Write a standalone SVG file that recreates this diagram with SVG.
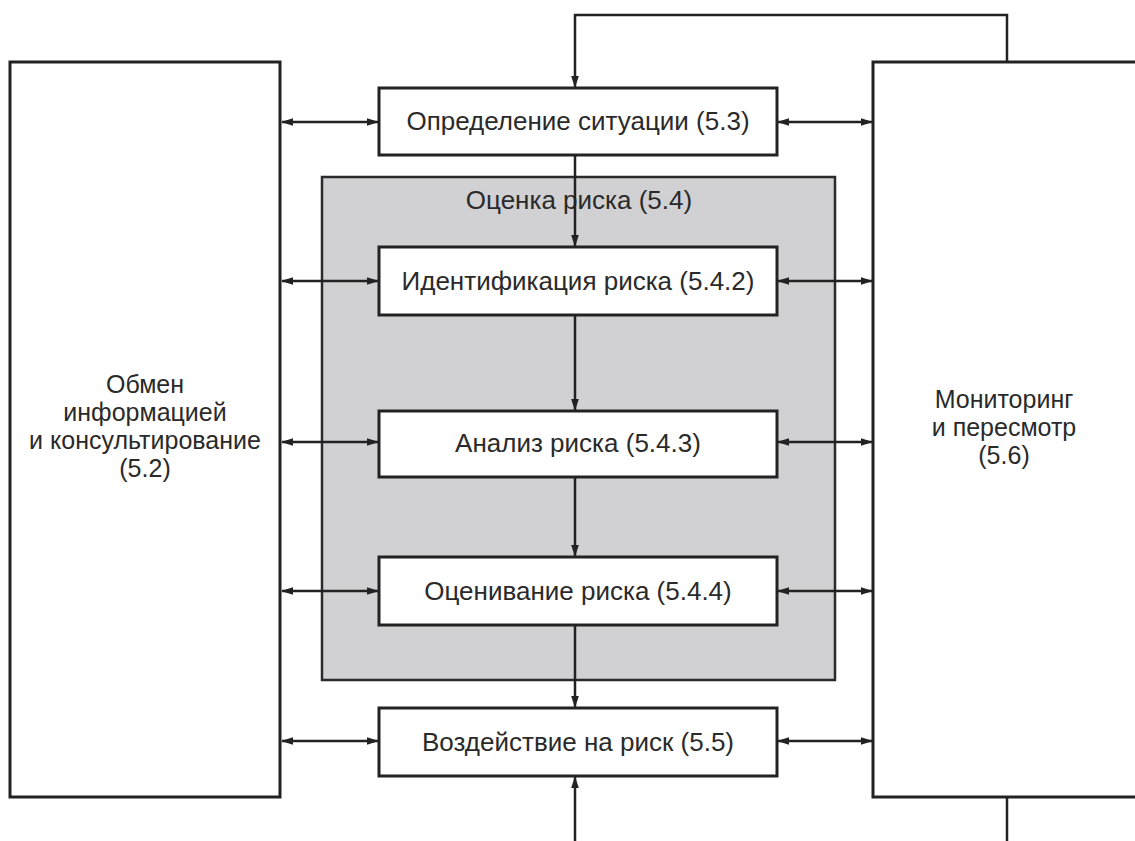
<svg xmlns="http://www.w3.org/2000/svg" width="1135" height="841" viewBox="0 0 1135 841">
<defs>
<style>
.box{fill:#fff;stroke:#222;stroke-width:3}
.grp{fill:#d1d0d3;stroke:#2a2a2a;stroke-width:2.5}
.ln{fill:none;stroke:#222;stroke-width:2.5}
.t{font-family:"Liberation Sans",Arial,sans-serif;font-size:26px;fill:#2a2a2a;text-anchor:middle}
.m{font-size:25px}
</style>
<marker id="ah" markerWidth="12" markerHeight="10" refX="11" refY="5" orient="auto-start-reverse" markerUnits="userSpaceOnUse">
<path d="M0,1.2 L12,5 L0,8.8 z" fill="#222"/>
</marker>
</defs>
<rect width="1135" height="841" fill="#fff"/>
<g id="n52"><rect class="box" x="10" y="62" width="270" height="735"/>
<text class="t m" x="145" y="393">Обмен</text><text class="t m" x="145" y="421">информацией</text><text class="t m" x="145" y="449">и консультирование</text><text class="t m" x="145" y="477">(5.2)</text></g>
<g id="n56"><rect class="box" x="873" y="62" width="280" height="735"/>
<text class="t m" x="1004" y="408">Мониторинг</text><text class="t m" x="1004" y="436">и пересмотр</text><text class="t m" x="1004" y="464">(5.6)</text></g>
<g id="n54"><rect class="grp" x="322" y="177" width="513" height="503"/>
<text class="t" x="579" y="209">Оценка риска (5.4)</text></g>
<g id="n53"><rect class="box" x="379" y="88" width="398" height="67"/><text class="t" x="578" y="130">Определение ситуации (5.3)</text></g>
<g id="n542"><rect class="box" x="379" y="247" width="398" height="68"/><text class="t" x="578" y="290">Идентификация риска (5.4.2)</text></g>
<g id="n543"><rect class="box" x="379" y="411" width="398" height="66"/><text class="t" x="578" y="452">Анализ риска (5.4.3)</text></g>
<g id="n544"><rect class="box" x="379" y="557" width="398" height="68"/><text class="t" x="578" y="600">Оценивание риска (5.4.4)</text></g>
<g id="n55"><rect class="box" x="379" y="708" width="398" height="68"/><text class="t" x="578" y="751">Воздействие на риск (5.5)</text></g>
<g id="connectors">
<path class="ln" d="M1007,62 V15 H575 V87" marker-end="url(#ah)"/>
<path class="ln" d="M575,155 V246" marker-end="url(#ah)"/>
<path class="ln" d="M575,315 V410" marker-end="url(#ah)"/>
<path class="ln" d="M575,477 V556" marker-end="url(#ah)"/>
<path class="ln" d="M575,625 V707" marker-end="url(#ah)"/>
<path class="ln" d="M575,841 V777" marker-end="url(#ah)"/>
<path class="ln" d="M1007,797 V841"/>
<path class="ln" d="M282,122 H378" marker-start="url(#ah)" marker-end="url(#ah)"/>
<path class="ln" d="M778,122 H872" marker-start="url(#ah)" marker-end="url(#ah)"/>
<path class="ln" d="M282,281 H378" marker-start="url(#ah)" marker-end="url(#ah)"/>
<path class="ln" d="M778,281 H872" marker-start="url(#ah)" marker-end="url(#ah)"/>
<path class="ln" d="M282,442 H378" marker-start="url(#ah)" marker-end="url(#ah)"/>
<path class="ln" d="M778,442 H872" marker-start="url(#ah)" marker-end="url(#ah)"/>
<path class="ln" d="M282,591 H378" marker-start="url(#ah)" marker-end="url(#ah)"/>
<path class="ln" d="M778,591 H872" marker-start="url(#ah)" marker-end="url(#ah)"/>
<path class="ln" d="M282,741 H378" marker-start="url(#ah)" marker-end="url(#ah)"/>
<path class="ln" d="M778,741 H872" marker-start="url(#ah)" marker-end="url(#ah)"/>
</g>
</svg>
